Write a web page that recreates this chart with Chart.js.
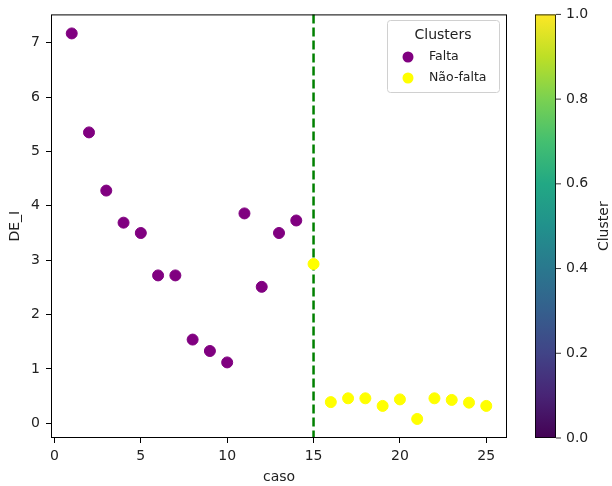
<!DOCTYPE html>
<html>
<head>
<meta charset="utf-8">
<script src="https://cdn.jsdelivr.net/npm/chart.js@4"></script>
<style>
  html, body { margin: 0; padding: 0; background: #fff; }
  #wrap { width: 612px; height: 486px; }
</style>
</head>
<body>
<div id="wrap"><canvas id="myChart" width="612" height="486"></canvas></div>
<script>
// dados
const casosFalta = [1, 2, 3, 4, 5, 6, 7, 8, 9, 10, 11, 12, 13, 14];
const deFalta = [7.17, 5.35, 4.28, 3.69, 3.50, 2.72, 2.72, 1.54, 1.33, 1.12, 3.86, 2.51, 3.50, 3.73];
const casosNaoFalta = [15, 16, 17, 18, 19, 20, 21, 22, 23, 24, 25];
const deNaoFalta = [2.93, 0.39, 0.46, 0.46, 0.32, 0.44, 0.08, 0.46, 0.43, 0.38, 0.32];
const clusterNames = ['Falta', 'Não-falta'];
const xTicks = [0, 5, 10, 15, 20, 25];
const yTicks = [0, 1, 2, 3, 4, 5, 6, 7];
const cbTicks = [0.0, 0.2, 0.4, 0.6, 0.8, 1.0];
const linhaCorte = 15;

const viridis = ['#440154','#482475','#414487','#355f8d','#2a788e','#21918c','#22a884','#44bf70','#7ad151','#bddf26','#fde725'];
const FONT = 'DejaVu Sans';

function pts(xs, ys) {
  const out = [];
  for (let i = 0; i < xs.length; i++) out.push({x: xs[i], y: ys[i]});
  return out;
}

const extras = {
  id: 'extras',
  beforeDatasetsDraw(chart) {
    const ctx = chart.ctx, a = chart.chartArea;
    const x = chart.scales.x.getPixelForValue(linhaCorte);
    ctx.save();
    ctx.strokeStyle = '#008000';
    ctx.lineWidth = 2.5;
    ctx.setLineDash([9, 4]);
    ctx.beginPath();
    ctx.moveTo(x, a.top);
    ctx.lineTo(x, a.bottom);
    ctx.stroke();
    ctx.restore();
  },
  afterDraw(chart) {
    const ctx = chart.ctx, a = chart.chartArea;
    ctx.save();
    // moldura
    ctx.strokeStyle = '#000';
    ctx.lineWidth = 1;
    ctx.strokeRect(a.left + 0.5, a.top + 0.5, a.right - a.left - 1, a.bottom - a.top - 1);

    // legenda
    const lx = 387, ly = 20, lw = 112, lh = 72;
    ctx.fillStyle = 'rgba(255,255,255,0.85)';
    ctx.strokeStyle = '#d0d0d0';
    ctx.beginPath();
    ctx.roundRect(lx + 0.5, ly + 0.5, lw, lh, 3);
    ctx.fill();
    ctx.stroke();
    ctx.fillStyle = '#222';
    ctx.font = '14px "' + FONT + '"';
    ctx.textAlign = 'center';
    ctx.textBaseline = 'middle';
    ctx.fillText('Clusters', lx + lw / 2, ly + 15);
    chart.data.datasets.forEach((ds, i) => {
      const yy = ly + 37 + i * 21;
      ctx.fillStyle = ds.backgroundColor;
      ctx.beginPath();
      ctx.arc(lx + 21, yy, 5.5, 0, Math.PI * 2);
      ctx.fill();
      ctx.fillStyle = '#222';
      ctx.font = '12.5px "' + FONT + '"';
      ctx.textAlign = 'left';
      ctx.fillText(ds.label, lx + 42, yy);
    });

    // barra de cores
    const cx = 535, cw = 21, top = a.top, bot = a.bottom;
    const g = ctx.createLinearGradient(0, bot, 0, top);
    viridis.forEach((c, i) => g.addColorStop(i / (viridis.length - 1), c));
    ctx.fillStyle = g;
    ctx.fillRect(cx, top, cw, bot - top);
    ctx.strokeStyle = '#000';
    ctx.lineWidth = 0.8;
    ctx.strokeRect(cx + 0.5, top + 0.5, cw - 1, bot - top - 1);
    ctx.font = '14px "' + FONT + '"';
    ctx.textAlign = 'left';
    ctx.textBaseline = 'middle';
    ctx.fillStyle = '#222';
    cbTicks.forEach(v => {
      const yy = bot - v * (bot - top);
      ctx.beginPath();
      ctx.moveTo(cx + cw, yy);
      ctx.lineTo(cx + cw + 5, yy);
      ctx.strokeStyle = '#000';
      ctx.stroke();
      ctx.fillText(v.toFixed(1), cx + cw + 10, yy);
    });
    ctx.translate(604, (top + bot) / 2);
    ctx.rotate(-Math.PI / 2);
    ctx.textAlign = 'center';
    ctx.fillText('Cluster', 0, 0);
    ctx.restore();
  }
};

const config = {
  type: 'scatter',
  data: {
    datasets: [
      {
        label: clusterNames[0],
        data: pts(casosFalta, deFalta),
        backgroundColor: '#800080',
        borderColor: '#800080',
        pointRadius: 5.5,
        pointHoverRadius: 5.5
      },
      {
        label: clusterNames[1],
        data: pts(casosNaoFalta, deNaoFalta),
        backgroundColor: '#ffff00',
        borderColor: '#ffff00',
        pointRadius: 5.5,
        pointHoverRadius: 5.5
      }
    ]
  },
  options: {
    responsive: false,
    animation: false,
    layout: { padding: { top: 14, right: 105, left: 0, bottom: 0 } },
    plugins: {
      legend: { display: false },
      tooltip: { enabled: false }
    },
    scales: {
      x: {
        type: 'linear',
        min: -0.2,
        max: 26.2,
        afterBuildTicks: s => { s.ticks = xTicks.map(v => ({value: v})); },
        afterFit: s => { s.height = 48; },
        grid: { display: true, drawOnChartArea: false, drawTicks: true, tickLength: 5, color: '#000' },
        border: { display: false },
        ticks: { color: '#222', font: { family: FONT, size: 14 }, padding: 5, maxRotation: 0 },
        title: { display: true, text: 'caso', color: '#222', font: { family: FONT, size: 14 }, padding: { top: 0, bottom: 0 } }
      },
      y: {
        type: 'linear',
        min: -0.27,
        max: 7.52,
        afterBuildTicks: s => { s.ticks = yTicks.map(v => ({value: v})); },
        afterFit: s => { s.width = 51; },
        grid: { display: true, drawOnChartArea: false, drawTicks: true, tickLength: 5, color: '#000' },
        border: { display: false },
        ticks: { color: '#222', font: { family: FONT, size: 14 }, padding: 6 },
        title: { display: true, text: 'DE_I', color: '#222', font: { family: FONT, size: 14 }, padding: { top: 7, bottom: 0 } }
      }
    }
  },
  plugins: [extras]
};

const myChart = new Chart(document.getElementById('myChart'), config);
</script>
</body>
</html>
